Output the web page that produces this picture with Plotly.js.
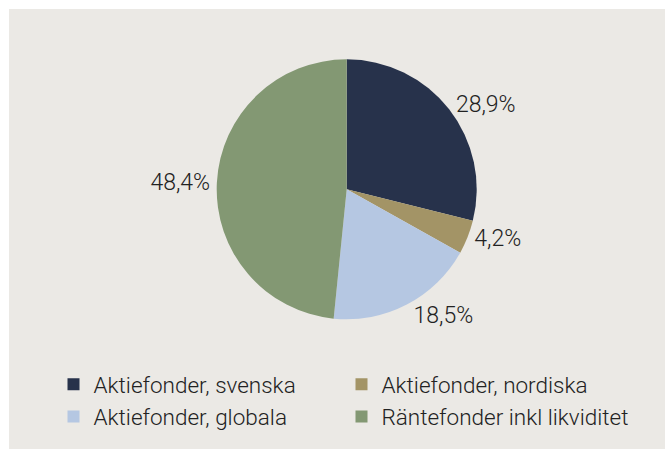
<!DOCTYPE html>
<html>
<head>
<meta charset="utf-8">
<script src="https://cdn.plot.ly/plotly-3.0.1.min.js"></script>
<style>
  html, body { margin: 0; padding: 0; background: #ffffff; }
  #chart { position: absolute; left: 9px; top: 9px; width: 656px; height: 440px; }
</style>
</head>
<body>
<div id="chart"></div>
<script>
const categories = ['Aktiefonder, svenska', 'Aktiefonder, nordiska', 'Aktiefonder, globala', 'Räntefonder inkl likviditet'];
const shares = [28.9, 4.2, 18.5, 48.4];
const sliceColors = ['#27324b', '#a39466', '#b5c7e2', '#839873'];

const W = 656, H = 440;
const cx = 337.7, cy = 180.3, R = 130;

const trace = {
  type: 'pie',
  labels: categories,
  values: shares,
  sort: false,
  direction: 'clockwise',
  rotation: 0,
  marker: { colors: sliceColors, line: { width: 0 } },
  textposition: 'outside',
  texttemplate: '%{value:.1f}%',
  outsidetextfont: { family: 'Roboto', size: 23, weight: 300, color: '#222222' },
  hoverinfo: 'none',
  domain: {
    x: [(cx - R) / W, (cx + R) / W],
    y: [(H - cy - R) / H, (H - cy + R) / H]
  }
};

const layout = {
  width: W,
  height: H,
  margin: { l: 0, r: 0, t: 0, b: 0 },
  paper_bgcolor: '#ebe9e5',
  plot_bgcolor: '#ebe9e5',
  separators: ', ',
  font: { family: 'Roboto', size: 23, weight: 300, color: '#222222' },
  showlegend: true,
  legend: {
    orientation: 'h',
    x: 44.5 / W,
    xanchor: 'left',
    y: (H - 354) / H,
    yanchor: 'top',
    entrywidth: 243,
    entrywidthmode: 'pixels',
    font: { family: 'Roboto', size: 22.5, weight: 300, color: '#222222' },
    bgcolor: 'rgba(0,0,0,0)'
  }
};

Plotly.newPlot('chart', [trace], layout, { displayModeBar: false, staticPlot: true });
</script>
</body>
</html>
